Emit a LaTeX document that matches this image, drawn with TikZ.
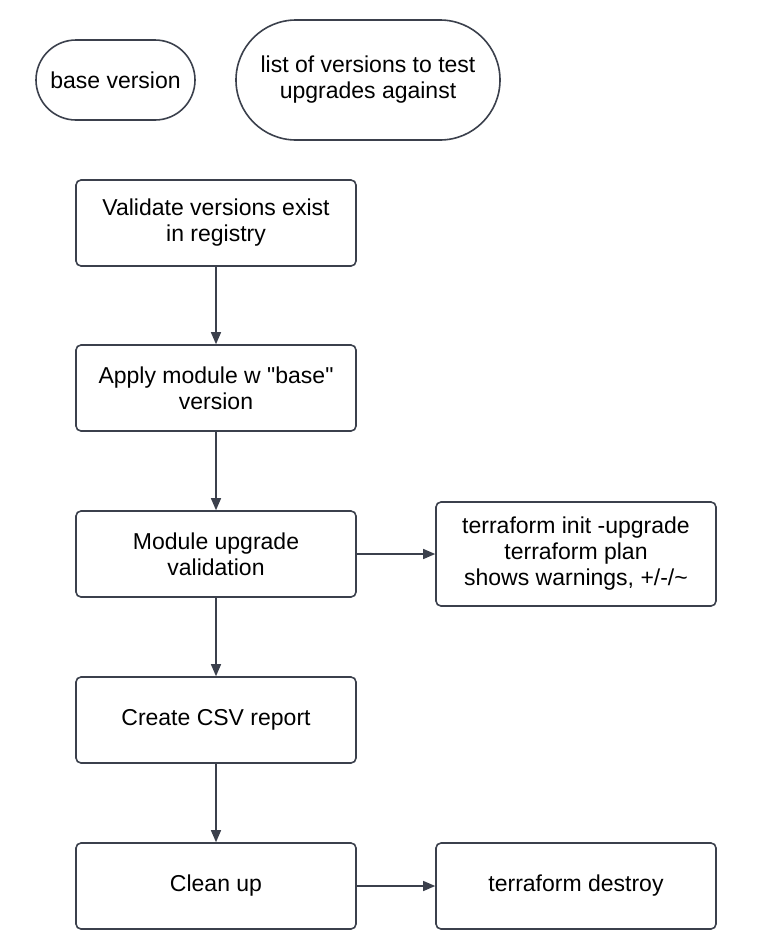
\documentclass[tikz,border=0pt]{standalone}
\usepackage{fontspec}
\setmainfont{Liberation Sans}
\usetikzlibrary{arrows.meta}
\definecolor{EdgeClr}{HTML}{3B404C}

\begin{document}
\begin{tikzpicture}[x=1pt,y=-1pt,
  stepbox/.style={draw=EdgeClr,line width=1.6pt,rounded corners=5pt,
    minimum width=280pt,minimum height=86pt,align=center,inner sep=0pt,
    font=\fontsize{23}{26}\selectfont},
  term/.style={draw=EdgeClr,line width=1.6pt,align=center,inner sep=0pt,
    font=\fontsize{23}{26}\selectfont},
  flow/.style={draw=EdgeClr,line width=1.3pt,-{Triangle[length=12pt,width=10pt]}}]
\useasboundingbox (0,0) rectangle (757,940);

\node[term,minimum width=159pt,minimum height=80pt,rounded corners=40pt] (base) at (115.5,80) {base version};
\node[term,minimum width=264pt,minimum height=120pt,rounded corners=60pt] (list) at (368,80) {list of versions to test\\upgrades against};

\node[stepbox] (validate) at (216,223) {Validate versions exist\\in registry};
\node[stepbox] (apply) at (216,388) {Apply module w \textquotedbl base\textquotedbl\\version};
\node[stepbox] (upgrade) at (216,554) {Module upgrade\\validation};
\node[stepbox] (report) at (216,720) {Create CSV report};
\node[stepbox] (cleanup) at (216,886) {Clean up};

\node[stepbox,minimum height=104pt] (plan) at (576,554) {terraform init -upgrade\\terraform plan\\shows warnings, +/-/\textasciitilde};
\node[stepbox] (destroy) at (576,886) {terraform destroy};

\draw[flow] (validate) -- (apply);
\draw[flow] (apply) -- (upgrade);
\draw[flow] (upgrade) -- (report);
\draw[flow] (report) -- (cleanup);
\draw[flow] (upgrade) -- (plan);
\draw[flow] (cleanup) -- (destroy);
\end{tikzpicture}
\end{document}
